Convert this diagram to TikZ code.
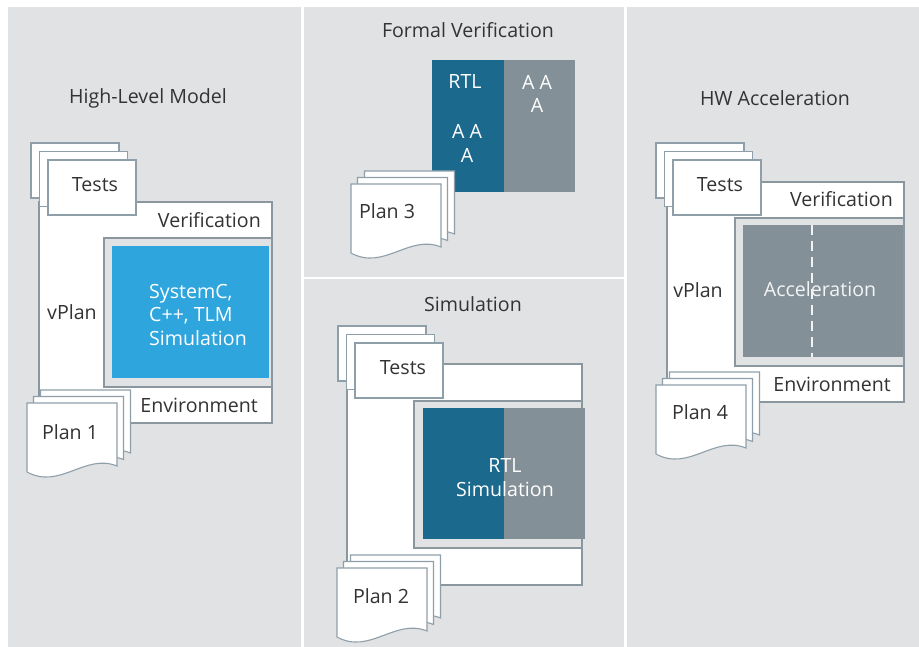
\documentclass[tikz,border=0pt]{standalone}
\usepackage{fontspec}
\setmainfont{Open Sans}
\definecolor{panelbg}{HTML}{E1E2E4}
\definecolor{framegray}{HTML}{8A979E}
\definecolor{sheetgray}{HTML}{8E9FA9}
\definecolor{skyblue}{HTML}{2EA6DD}
\definecolor{navy}{HTML}{1B698D}
\definecolor{slate}{HTML}{839097}
\definecolor{ink}{HTML}{333333}
\tikzset{
  panel/.style={fill=panelbg, draw=none},
  frame/.style={draw=framegray, line width=2.2pt, fill=white},
  innerbox/.style={draw=framegray, line width=2.2pt, fill=panelbg},
  sheet/.style={draw=sheetgray, line width=1.1pt, fill=white},
  lbl/.style={text=ink, font=\fontsize{19.6}{22.5}\selectfont, inner sep=0pt},
  wlbl/.style={text=white, font=\fontsize{19.6}{23.5}\selectfont, inner sep=0pt},
  title/.style={text=ink, font=\fontsize{19.6}{22}\selectfont, inner sep=0pt},
  plansheet/.pic={\draw[sheet] (0,0) -- (90,0) -- (90,63) .. controls (58,50) and (33,87) .. (0,69) -- cycle;},
}
\newcommand\testsheets[2]{%
  \draw[sheet] (#1,#2) rectangle ++(88,55);
  \draw[sheet] (#1+8.5,#2+8.5) rectangle ++(88,55);
  \draw[sheet] (#1+17,#2+17) rectangle ++(88,55);}
\newcommand\planstack[2]{%
  \pic at (#1+13.5,#2-13) {plansheet};
  \pic at (#1+6.5,#2-6.5) {plansheet};
  \pic at (#1,#2) {plansheet};}
\begin{document}
\begin{tikzpicture}[x=1pt, y=-1pt]
\useasboundingbox (0,0) rectangle (919,647);
\fill[white] (0,0) rectangle (919,647);
% four panels
\fill[panel] (8,7) rectangle (301.3,647);
\fill[panel] (304,7) rectangle (624,276.7);
\fill[panel] (304,279) rectangle (624,647);
\fill[panel] (626.7,7) rectangle (919,647);

% ---------- High-Level Model ----------
\node[title] (t1) at (148,98) {High-Level Model};
\draw[frame] (39,202) rectangle (272,423);
\draw[innerbox] (104,238) rectangle (272,387);
\fill[skyblue] (112,246) rectangle (269,378);
\node[wlbl, align=left, anchor=west] (sysc) at (149,314.5) {SystemC,\\C++, TLM\\Simulation};
\node[lbl, anchor=east] (ver1) at (261,220) {Verification};
\node[lbl] (vp1) at (72,312) {vPlan};
\node[lbl, anchor=east] (env1) at (258,405) {Environment};
\testsheets{31}{143}
\node[lbl] (tests1) at (95,185) {Tests};
\planstack{27}{403}
\node[lbl] (plan1) at (70,432) {Plan 1};

% ---------- Formal Verification ----------
\node[title] (t2) at (468,30) {Formal Verification};
\fill[navy] (432,60) rectangle (503.5,192);
\fill[slate] (503.5,60) rectangle (575,192);
\node[wlbl] (rtl3) at (465,82) {RTL};
\node[wlbl, align=center] (aa3) at (467,143.5) {A A\\A};
\node[wlbl, align=center] (ab3) at (537,94) {A A\\A};
\planstack{351}{184}
\node[lbl] (plan3) at (387,211) {Plan 3};

% ---------- Simulation ----------
\node[title] (t3) at (473,304) {Simulation};
\draw[frame] (347,364) rectangle (582,585);
\draw[innerbox] (414,401) rectangle (582,548);
\fill[navy] (423,408) rectangle (504,539);
\fill[slate] (504,408) rectangle (585,539);
\node[wlbl, align=center] (rtlsim) at (505,477.5) {RTL\\Simulation};
\testsheets{338}{326}
\node[lbl] (tests2) at (403,368) {Tests};
\planstack{337}{568}
\node[lbl] (plan2) at (381,596) {Plan 2};

% ---------- HW Acceleration ----------
\node[title] (t4) at (775,98) {HW Acceleration};
\draw[frame] (667,182) rectangle (904,402);
\draw[innerbox] (735,218) rectangle (904,366);
\fill[slate] (743,225) rectangle (903,357);
\node[text=white!90!slate, font=\fontsize{19.6}{22}\selectfont, inner sep=0pt] (acc) at (820,289) {Acceleration};
\draw[white!88!slate, line width=2pt, dash pattern=on 10pt off 6pt] (812,225) -- (812,357);
\node[lbl, anchor=east] (ver4) at (893,199) {Verification};
\node[lbl] (vp4) at (698,290) {vPlan};
\node[lbl, anchor=east] (env4) at (891,384) {Environment};
\testsheets{656}{143}
\node[lbl] (tests4) at (720,185) {Tests};
\planstack{656}{385}
\node[lbl] (plan4) at (700,412) {Plan 4};
\end{tikzpicture}
\end{document}
